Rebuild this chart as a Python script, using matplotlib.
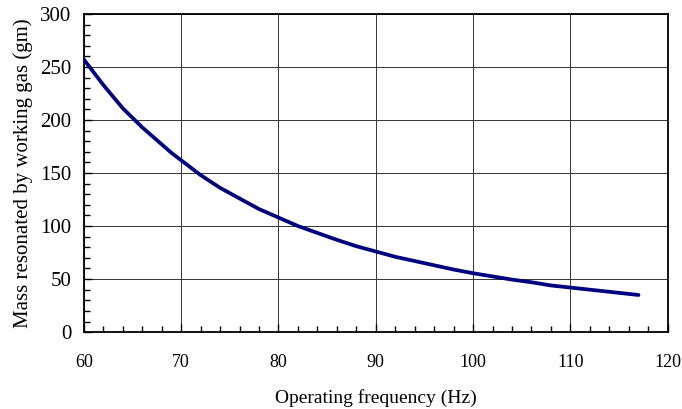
import matplotlib
matplotlib.use("Agg")
import matplotlib.pyplot as plt
from matplotlib.ticker import MultipleLocator

freq = [60, 61, 62, 63, 64, 65, 66, 67, 68, 69, 70, 72, 74, 76, 78, 80, 82, 84, 86, 88,
        90, 92, 94, 96, 98, 100, 102, 104, 106, 108, 110, 112, 114, 116, 117]
mass = [257, 245, 233, 222, 211, 202, 193, 185, 177, 169, 162, 148, 136, 126, 116, 108,
        100, 93.5, 87, 81, 76, 71, 67, 63, 59, 55.5, 52.5, 49.5, 47, 44, 42, 40, 38, 36, 35]

plt.rcParams['font.family'] = ['Liberation Serif', 'DejaVu Serif']

fig = plt.figure(figsize=(6.82, 4.09), dpi=100)
ax = fig.add_axes([0.123, 0.188, 0.856, 0.778])
ax.plot(freq, mass, color='#000080', lw=2.7, solid_capstyle='round',
        solid_joinstyle='round', zorder=3)
ax.set_xlim(60, 120)
ax.set_ylim(0, 300)
ax.xaxis.set_major_locator(MultipleLocator(10))
ax.xaxis.set_minor_locator(MultipleLocator(2))
ax.yaxis.set_major_locator(MultipleLocator(50))
ax.yaxis.set_minor_locator(MultipleLocator(10))
ax.grid(True, which='major', color='#333333', lw=0.7)
ax.tick_params(which='both', direction='in')
ax.tick_params(which='major', length=6, width=1)
ax.tick_params(which='minor', length=4, width=1)
ax.tick_params(axis='x', which='major', pad=16, labelsize=13)
ax.tick_params(axis='y', which='major', pad=9, labelsize=15)
for s in ax.spines.values():
    s.set_linewidth(1.3)
ax.set_xlabel('Operating frequency (Hz)', fontsize=14, labelpad=13)
ax.set_ylabel('Mass resonated by working gas (gm)', fontsize=15, labelpad=5)
fig.savefig('out.png', dpi=100)
